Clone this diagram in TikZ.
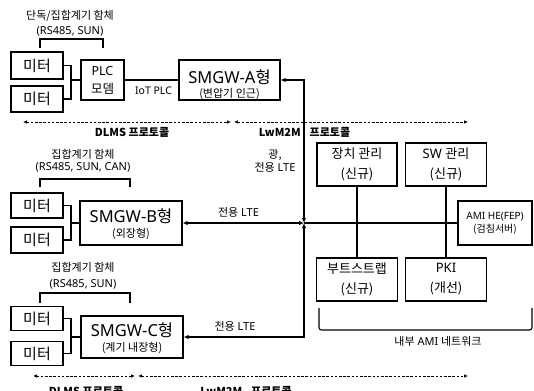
\documentclass[tikz,border=0pt]{standalone}
\usepackage{fontspec}
\setmainfont{Noto Sans}
\newfontfamily\krf{Noto Sans CJK KR}
\newcommand\K[1]{{\krf #1}}
\usetikzlibrary{arrows.meta}
\begin{document}
\begin{tikzpicture}[x=1pt,y=-1pt,
  box/.style={draw, line width=1.2pt, inner sep=0pt, align=center},
  ln/.style={line width=1.1pt},
  arr/.style={line width=1.1pt, {Latex[length=5pt,width=4.5pt]}-{Latex[length=5pt,width=4.5pt]}},
  dasharr/.style={line width=0.9pt, dash pattern=on 2.6pt off 1.6pt, {Latex[length=4pt,width=3.6pt]}-{Latex[length=4pt,width=3.6pt]}},
  lab/.style={inner sep=0pt, align=center},
  fbig/.style={font=\fontsize{16.5}{20}\selectfont},
  fmeter/.style={font=\fontsize{15}{18}\selectfont},
  fsmall/.style={font=\fontsize{11}{13}\selectfont},
  fproto/.style={font=\krf\fontsize{11}{13}\selectfont\bfseries},
]
\useasboundingbox (0,0) rectangle (534,390);

% ---------- group A ----------
\node[box, fmeter, minimum width=52pt, minimum height=27pt] (m1) at (37,65.5) {\K{미터}};
\node[box, fmeter, minimum width=52pt, minimum height=26pt] (m2) at (37,99) {\K{미터}};
\coordinate (j1) at (71,80);
\node[box, font=\fontsize{12.5}{18}\selectfont, minimum width=43pt, minimum height=40pt] (plc) at (102.5,80) {PLC\\\K{모뎀}};
\node[box, minimum width=101pt, minimum height=40pt] (a) at (229.5,80) {};
\node[lab, fbig] (atitle) at (229.5,77) {SMGW-A\K{형}};
\node[lab, fsmall] (asub) at (229.5,94) {\K{(변압기 인근)}};
\draw[ln] (m1.east) -| (j1) |- (m2.east);
\draw[ln] (j1) -- (plc.west);
\draw[ln] (plc.east) -- (a.west);
\node[lab, font=\fontsize{10.5}{12}\selectfont] (iot) at (153.5,91) {IoT PLC};
\node[lab, font=\fontsize{11}{15}\selectfont] (ta) at (70,23.5) {\K{단독/집합계기 함체}\\(RS485, SUN)};
\draw[ln] (40,48) -- (40,39) -- (103,39) -- (103,48);

% protocol row 1
\coordinate (d1l) at (23,122);
\coordinate (d1r) at (231,122);
\coordinate (l1l) at (234,122);
\coordinate (l1r) at (468,122);
\draw[dasharr] (d1l) -- (d1r);
\draw[dasharr] (l1l) -- (l1r);
\node[lab, fproto] (p1) at (132,132.5) {DLMS 프로토콜};
\node[lab, fproto] (p2) at (304.5,132.5) {LwM2M\hspace{9pt}프로토콜};

% ---------- group B ----------
\node[lab, font=\fontsize{11}{11.5}\selectfont] (tb) at (83,161) {\K{집합계기 함체}\\(RS485, SUN, CAN)};
\draw[ln] (40,187) -- (40,179) -- (130,179) -- (130,187);
\node[box, fmeter, minimum width=52pt, minimum height=25pt] (m3) at (37,205.5) {\K{미터}};
\node[box, fmeter, minimum width=52pt, minimum height=26pt] (m4) at (37,240) {\K{미터}};
\coordinate (j2) at (71,223);
\node[box, minimum width=102pt, minimum height=44pt] (b) at (131,223) {};
\node[lab, fbig] (btitle) at (131,216) {SMGW-B\K{형}};
\node[lab, fsmall] (bsub) at (131,233.5) {\K{(외장형)}};
\draw[ln] (m3.east) -| (j2) |- (m4.east);
\draw[ln] (j2) -- (b.west);

% ---------- group C ----------
\node[lab, font=\fontsize{11}{16}\selectfont] (tc) at (83,276) {\K{집합계기 함체}\\(RS485, SUN)};
\draw[ln] (40,303) -- (40,293) -- (130,293) -- (130,303);
\node[box, fmeter, minimum width=52pt, minimum height=24pt] (m5) at (37,318.5) {\K{미터}};
\node[box, fmeter, minimum width=52pt, minimum height=24pt] (m6) at (37,353.5) {\K{미터}};
\coordinate (j3) at (71,337);
\node[box, minimum width=102pt, minimum height=42pt] (c) at (132,337) {};
\node[lab, fbig] (ctitle) at (132,330) {SMGW-C\K{형}};
\node[lab, fsmall] (csub) at (132,348) {\K{(계기 내장형)}};
\draw[ln] (m5.east) -| (j3) |- (m6.east);
\draw[ln] (j3) -- (c.west);

% protocol row 2
\coordinate (d2l) at (33,376);
\coordinate (d2r) at (135,376);
\coordinate (l2l) at (138,376);
\coordinate (l2r) at (468,376);
\draw[dasharr] (d2l) -- (d2r);
\draw[dasharr] (l2l) -- (l2r);
\node[lab, fproto, anchor=base] (p3) at (86,395) {DLMS 프로토콜};
\node[lab, fproto, anchor=base] (p4) at (246,395) {LwM2M\hspace{9pt}프로토콜};

% ---------- right side ----------
\node[box, font=\fontsize{13}{20}\selectfont, minimum width=80pt, minimum height=43pt] (dev) at (357,164.5) {\K{장치 관리}\\\K{(신규)}};
\node[box, font=\fontsize{13}{20}\selectfont, minimum width=81pt, minimum height=43pt] (sw) at (446,164.5) {SW \K{관리}\\\K{(신규)}};
\node[box, font=\fontsize{13}{20.5}\selectfont, minimum width=81pt, minimum height=43pt] (boot) at (357,279.5) {\K{부트스트랩}\\\K{(신규)}};
\node[box, font=\fontsize{13}{20}\selectfont, minimum width=81pt, minimum height=43pt] (pki) at (446,279.5) {PKI\\\K{(개선)}};
\node[box, font=\fontsize{10}{13}\selectfont, minimum width=74pt, minimum height=44pt] (ami) at (495,223) {AMI HE(FEP)\\\K{(검침서버)}};
\draw[ln] (dev.south) -- (boot.north);
\draw[ln] (sw.south) -- (pki.north);
\draw[ln, rounded corners=2.5pt] (319,308) -- (319,330) -- (532,330) -- (532,308);
\node[lab, fsmall] (net) at (438,341) {\K{내부} AMI \K{네트워크}};

% ---------- backbone ----------
\coordinate (J) at (304,223);
\draw[ln] (J) -- (ami.west);
\draw[arr] (a.east) -| (J);
\draw[arr] (b.east) -- (J);
\draw[arr] (c.east) -| (J);
\node[lab, fsmall] (lte0) at (275,160.5) {\K{광,}\\\K{전용} LTE};
\node[lab, fsmall] (lte1) at (238.5,212) {\K{전용} LTE};
\node[lab, fsmall] (lte2) at (235,326) {\K{전용} LTE};
\end{tikzpicture}
\end{document}
